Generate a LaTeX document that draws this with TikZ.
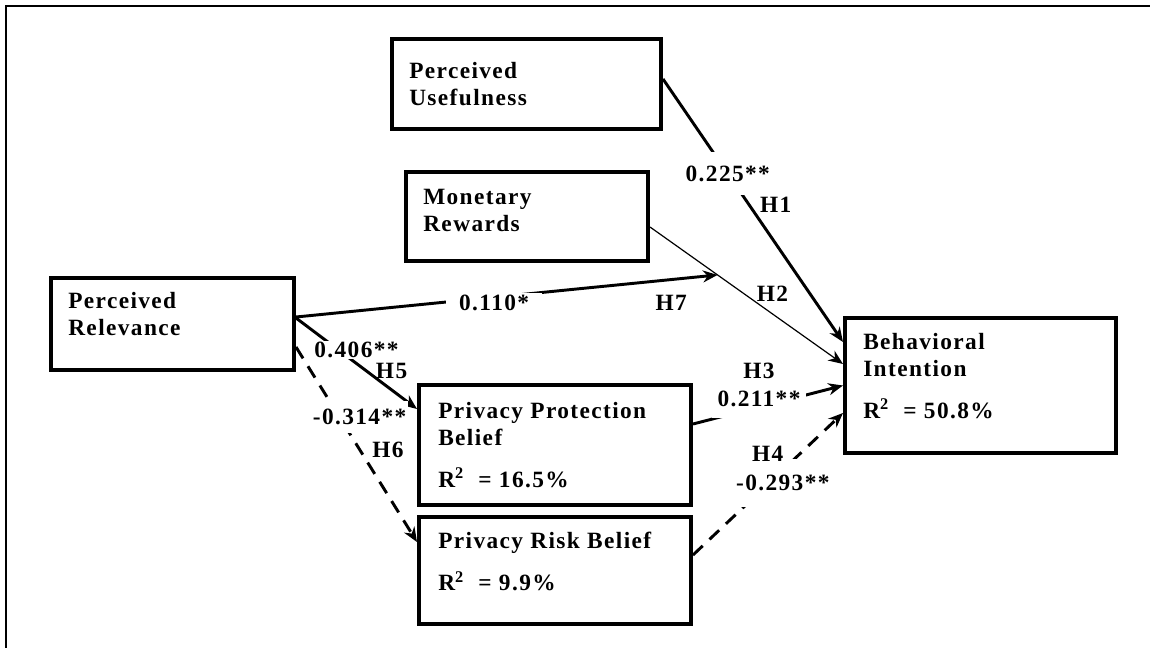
\documentclass[tikz,border=0pt]{standalone}
\usepackage{fontspec}
\setmainfont{Liberation Serif}[LetterSpace=6]
\usetikzlibrary{arrows.meta}

\begin{document}
\begin{tikzpicture}[x=0.75pt, y=-0.75pt,
		construct/.style={draw, line width=3pt, inner sep=0pt, anchor=north west},
		boxtext/.style={anchor=north west, align=left, inner sep=0pt, font=\bfseries\fontsize{17.5pt}{20.25pt}\selectfont},
		coef/.style={font=\bfseries\fontsize{17.5pt}{20pt}\selectfont, inner sep=1pt},
		cut/.style={coef, fill=white},
		link/.style={line width=2.2pt, -{Stealth[length=11pt, width=9pt]}},
		brokenline/.style={dash pattern=on 10pt off 7pt}]
		\useasboundingbox (0, 0) rectangle (1150, 648);
		\draw[line width=1.5pt]	(6, 648) -- (6, 6) -- (1150, 6);

		\node[construct, minimum width=201.75pt, minimum height=67.5pt]	(pu) at (390, 37) {};
		\node[construct, minimum width=181.5pt, minimum height=66.75pt]	(mr) at (404, 170) {};
		\node[construct, minimum width=182.25pt, minimum height=69pt]	(pr) at (49, 276) {};
		\node[construct, minimum width=204pt, minimum height=90pt]	(ppb) at (417, 383) {};
		\node[construct, minimum width=204pt, minimum height=80.25pt]	(prb) at (417, 515) {};
		\node[construct, minimum width=203.25pt, minimum height=101.25pt]	(bi) at (843, 316) {};

		\node[boxtext]	(pu-text) at ([shift={(19, 25)}]pu.north west) {Perceived\\Usefulness};
		\node[boxtext]	(mr-text) at ([shift={(19, 19)}]mr.north west) {Monetary\\Rewards};
		\node[boxtext]	(pr-text) at ([shift={(19, 16)}]pr.north west) {Perceived\\Relevance};
		\node[boxtext]	(ppb-text) at ([shift={(21, 19)}]ppb.north west) {Privacy Protection\\Belief\\[11pt]R\textsuperscript{2}~ = 16.5\%};
		\node[boxtext]	(prb-text) at ([shift={(21, 17)}]prb.north west) {Privacy Risk Belief\\[11pt]R\textsuperscript{2}~ = 9.9\%};
		\node[boxtext]	(bi-text) at ([shift={(20, 17)}]bi.north west) {Behavioral\\Intention\\[11pt]R\textsuperscript{2}~ = 50.8\%};

		\draw[link]	([shift={(0, -5)}]pu.east) -- node[cut, pos=0.36, inner ysep=10pt]{0.225**} node[coef, pos=0.48, right=6pt]{H1} ([shift={(0, -43.5)}]bi.west);
		\draw[link, line width=0.9pt]	([shift={(0, 10.5)}]mr.east) -- coordinate[pos=0.35] (moderator) node[coef, pos=0.635, above=8pt]{H2} ([shift={(0, -21.5)}]bi.west);
		\draw[link]	([shift={(0, -7)}]pr.east) -- node[cut, pos=0.47, yshift=-4pt, inner xsep=10pt]{0.110*} node[coef, pos=0.89, below=10pt]{H7} (moderator);
		\draw[link]	([shift={(0, -6)}]pr.east) -- node[cut, pos=0.5, yshift=10pt]{0.406**} node[coef, pos=0.79, above=6pt]{H5} ([shift={(0, -36)}]ppb.west);
		\draw[link, brokenline]	([shift={(0, 23)}]pr.east) -- node[cut, pos=0.36, xshift=15pt, inner ysep=6pt]{-0.314**} node[coef, pos=0.53, right=7pt]{H6} ([shift={(0, -28.5)}]prb.west);
		\draw[link]	([shift={(0, -21)}]ppb.east) -- node[cut, pos=0.44, yshift=6pt, inner ysep=8pt, inner xsep=4pt]{0.211**} node[coef, pos=0.44, yshift=27pt]{H3} (bi.west);
		\draw[link, brokenline]	([shift={(0, -15.5)}]prb.east) -- node[cut, pos=0.51, xshift=10pt, inner ysep=12pt]{-0.293**} node[coef, pos=0.71, left=10pt]{H4} ([shift={(0, 27.5)}]bi.west);
\end{tikzpicture}
\end{document}
